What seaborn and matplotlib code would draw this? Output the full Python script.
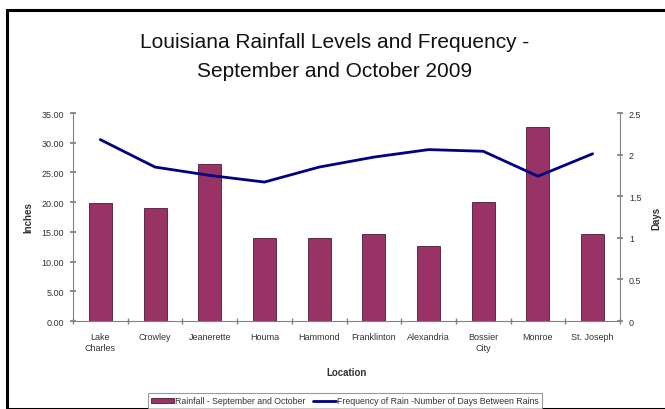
import matplotlib
matplotlib.use("Agg")
import matplotlib.pyplot as plt
import seaborn as sns
import pandas as pd
from matplotlib.patches import Rectangle, Patch
from matplotlib.lines import Line2D
from matplotlib.ticker import FixedLocator, MultipleLocator

locations = ["Lake\nCharles", "Crowley", "Jeanerette", "Houma", "Hammond",
             "Franklinton", "Alexandria", "Bossier\nCity", "Monroe", "St. Joseph"]
rainfall = [19.8, 19.0, 26.5, 14.0, 14.0, 14.6, 12.6, 20.1, 32.6, 14.6]
days_between = [2.18, 1.85, 1.75, 1.67, 1.85, 1.97, 2.06, 2.04, 1.74, 2.01]

bar_label = "Rainfall - September and October"
line_label = "Frequency of Rain -Number of Days Between Rains"

sns.set_theme(style="white")
plt.rcParams["font.family"] = ["Liberation Sans", "DejaVu Sans"]

bar_color = "#993366"
line_color = "#000080"
axis_color = "#808080"
text_color = "#333333"

df = pd.DataFrame({"Location": locations, "Rainfall": rainfall, "Days": days_between})

fig = plt.figure(figsize=(6.65, 4.10), dpi=100)
ax = fig.add_axes([73/665, 1-322/410, (620-73)/665, (322-114)/410])

sns.barplot(data=df, x="Location", y="Rainfall", color=bar_color, width=0.42,
            saturation=1, edgecolor="#4d1a33", linewidth=0.6, ax=ax, order=locations)
ax.set_xlim(-0.5, len(locations) - 0.5)
ax.set_ylim(0, 35)
ax.yaxis.set_major_locator(MultipleLocator(5))
ax.set_yticklabels([f"{v:.2f}" for v in ax.get_yticks()])

ax2 = ax.twinx()
sns.lineplot(data=df, x="Location", y="Days", color=line_color, linewidth=2,
             sort=False, ax=ax2)
ax2.set_ylim(0, 2.5)
ax2.yaxis.set_major_locator(MultipleLocator(0.5))
ax2.set_yticklabels([f"{v:g}" for v in ax2.get_yticks()])
ax.set_xlim(-0.5, len(locations) - 0.5)

for a in (ax, ax2):
    for s in ("left", "bottom", "right"):
        a.spines[s].set_color(axis_color)
        a.spines[s].set_linewidth(0.8)
    a.spines["top"].set_visible(False)

ax.spines["right"].set_visible(False)
ax2.spines["left"].set_visible(False)
ax2.spines["bottom"].set_visible(False)

ax.tick_params(axis="y", direction="inout", length=5, color=axis_color,
               labelsize=6.5, labelcolor=text_color, pad=4, left=True)
ax2.tick_params(axis="y", direction="inout", length=5, color=axis_color,
                labelsize=6.5, labelcolor=text_color, pad=4, right=True)
ax.tick_params(axis="x", which="major", length=0, labelsize=6.5,
               labelcolor=text_color, pad=8)
ax.xaxis.set_minor_locator(FixedLocator([i - 0.5 for i in range(len(locations) + 1)]))
ax.tick_params(axis="x", which="minor", direction="inout", length=5,
               color=axis_color, bottom=True)
for lbl in ax.get_xticklabels():
    lbl.set_linespacing(1.3)

ax.set_xlabel("Location", fontsize=7, fontweight="bold", color=text_color, labelpad=11)
ax.set_ylabel("Inches", fontsize=7, fontweight="bold", color=text_color, labelpad=6)
ax2.set_ylabel("Days", fontsize=7, fontweight="bold", color=text_color, labelpad=7)
ax2.grid(False)
ax.grid(False)

fig.text(335/665, 1-42/410, "Louisiana Rainfall Levels and Frequency -",
         ha="center", va="center", fontsize=15, color="#111111")
fig.text(335/665, 1-72/410, "September and October 2009",
         ha="center", va="center", fontsize=15, color="#111111")

handles = [Patch(facecolor=bar_color, edgecolor="#4d1a33", linewidth=0.6),
           Line2D([0], [0], color=line_color, linewidth=2)]
leg = fig.legend(handles, [bar_label, line_label], loc="center",
                 bbox_to_anchor=(345/665, 1-402/410), ncol=2, fontsize=6.3,
                 frameon=True, fancybox=False, handlelength=2.6, handleheight=0.6,
                 handletextpad=0.2, columnspacing=0.8, borderpad=0.35)
leg.get_frame().set_edgecolor(axis_color)
leg.get_frame().set_linewidth(0.8)
for t in leg.get_texts():
    t.set_color(text_color)

fig.patches.append(Rectangle((6.5/665, 0), 1.0, 1 - 10.5/410, transform=fig.transFigure,
                             fill=False, edgecolor="black", linewidth=2.2, figure=fig))

fig.savefig("out.png", dpi=100)
